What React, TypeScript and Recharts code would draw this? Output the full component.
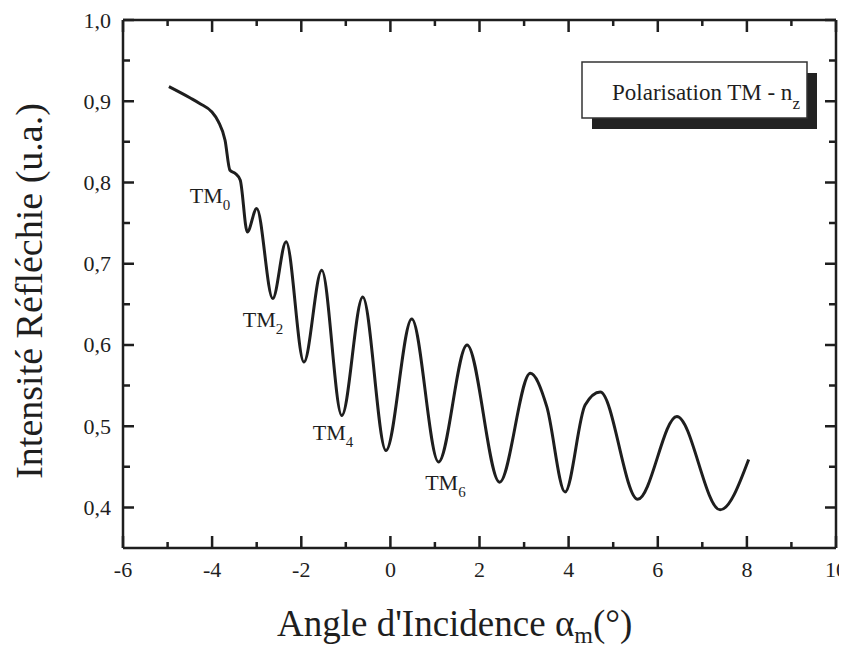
import React from 'react';
import { LineChart, Line, XAxis, YAxis, ReferenceDot } from 'recharts';

// ---- data ----
const angles = [-4.97, -4.49, -4.27, -4.01, -3.86, -3.71, -3.6, -3.48, -3.37, -3.21, -3.0, -2.64, -2.34, -1.94, -1.54, -1.09, -0.62, -0.1, 0.48, 1.08, 1.72, 2.45, 3.14, 3.51, 3.92, 4.37, 4.71, 5.55, 6.43, 7.4, 8.04];
const intensity = [0.918, 0.904, 0.897, 0.887, 0.875, 0.852, 0.815, 0.811, 0.803, 0.739, 0.768, 0.657, 0.727, 0.579, 0.692, 0.513, 0.659, 0.47, 0.632, 0.456, 0.6, 0.431, 0.565, 0.524, 0.419, 0.526, 0.542, 0.41, 0.512, 0.397, 0.459];
const xMajorTicks = [-6, -4, -2, 0, 2, 4, 6, 8, 10];
const xMinorTicks = [-5, -3, -1, 1, 3, 5, 7, 9];
const yMajorTicks = [0.4, 0.5, 0.6, 0.7, 0.8, 0.9, 1.0];
const yMinorTicks = [0.45, 0.55, 0.65, 0.75, 0.85, 0.95];
const modeLabels = [
  { x: -4.5, y: 0.775, mode: '0' },
  { x: -3.31, y: 0.622, mode: '2' },
  { x: -1.74, y: 0.483, mode: '4' },
  { x: 0.78, y: 0.421, mode: '6' },
];
const legendMain = 'Polarisation TM - n';
const legendSub = 'z';
const xTitle = "Angle d'Incidence \u03B1";
const xTitleSub = 'm';
const xTitleEnd = '(\u00B0)';
const yTitle = 'Intensité Réfléchie (u.a.)';

const data = angles.map((a, i) => ({ angle: a, r: intensity[i] }));

const FONT = '"Liberation Serif", "Times New Roman", serif';
const INK = '#1e1e1e';
const W = 839;
const H = 641;
const XMIN = -6;
const XMAX = 10;
const YMIN = 0.35;
const YMAX = 1.0;
const MARGIN = { top: 12, right: 11, bottom: 61, left: 0 };
const Y_AXIS_W = 115;
const X_AXIS_H = 40;
// plot frame derived from the layout above
const PL = MARGIN.left + Y_AXIS_W;
const PR = W - MARGIN.right;
const PT = MARGIN.top;
const PB = H - MARGIN.bottom - X_AXIS_H;
const sx = (v: number) => PL + ((v - XMIN) / (XMAX - XMIN)) * (PR - PL);
const sy = (v: number) => PB - ((v - YMIN) / (YMAX - YMIN)) * (PB - PT);

function BottomLabel(props: any) {
  const { x, y, payload } = props;
  return (
    <text x={x} y={y + 29} textAnchor="middle" fontSize={22} fontFamily={FONT} fill={INK}>
      {String(payload.value)}
    </text>
  );
}

function LeftLabel(props: any) {
  const { x, y, payload } = props;
  return (
    <text x={x - 12} y={y + 7.5} textAnchor="end" fontSize={22} fontFamily={FONT} fill={INK}>
      {Number(payload.value).toFixed(1).replace('.', ',')}
    </text>
  );
}

function ModeLabel(mode: string) {
  return (p: any) => (
    <text x={p.cx} y={p.cy} fontSize={22} fontFamily={FONT} fill={INK}>
      TM
      <tspan fontSize={15} dy={7}>{mode}</tspan>
    </text>
  );
}

function tickPath(): string {
  let d = '';
  const vx = (v: number, len: number) => {
    const x = sx(v).toFixed(1);
    d += `M${x} ${PB} L${x} ${PB - len} `;
    d += `M${x} ${PT} L${x} ${PT + len} `;
  };
  const hy = (v: number, len: number) => {
    const y = sy(v).toFixed(1);
    d += `M${PL} ${y} L${PL + len} ${y} `;
    d += `M${PR} ${y} L${PR - len} ${y} `;
  };
  for (const v of xMajorTicks) vx(v, 12);
  for (const v of xMinorTicks) vx(v, 6);
  for (const v of yMajorTicks) hy(v, 11);
  for (const v of yMinorTicks) hy(v, 7);
  return d;
}

export default function App() {
  const axisLine = { stroke: INK, strokeWidth: 2.5 };
  return (
    <div style={{ position: 'relative', width: W, height: H, background: '#fff' }}>
      <LineChart width={W} height={H} data={data} margin={MARGIN}>
        <XAxis
          xAxisId="x"
          dataKey="angle"
          type="number"
          domain={[XMIN, XMAX]}
          ticks={xMajorTicks}
          interval={0}
          allowDataOverflow
          height={X_AXIS_H}
          tickSize={0}
          tickMargin={0}
          tickLine={false}
          axisLine={axisLine}
          tick={BottomLabel}
        />
        <YAxis
          yAxisId="y"
          type="number"
          domain={[YMIN, YMAX]}
          ticks={yMajorTicks}
          interval={0}
          allowDataOverflow
          width={Y_AXIS_W}
          tickSize={0}
          tickMargin={0}
          tickLine={false}
          axisLine={axisLine}
          tick={LeftLabel}
        />
        <XAxis
          xAxisId="xt"
          orientation="top"
          mirror
          type="number"
          domain={[XMIN, XMAX]}
          ticks={xMajorTicks}
          interval={0}
          allowDataOverflow
          height={1}
          tick={false}
          tickLine={false}
          axisLine={axisLine}
        />
        <YAxis
          yAxisId="yr"
          orientation="right"
          mirror
          type="number"
          domain={[YMIN, YMAX]}
          ticks={yMajorTicks}
          interval={0}
          allowDataOverflow
          width={1}
          tick={false}
          tickLine={false}
          axisLine={axisLine}
        />
        <Line
          xAxisId="x"
          yAxisId="y"
          type="monotone"
          dataKey="r"
          stroke={INK}
          strokeWidth={3}
          dot={false}
          isAnimationActive={false}
        />
        {modeLabels.map((m) => (
          <ReferenceDot
            key={m.mode}
            xAxisId="x"
            yAxisId="y"
            x={m.x}
            y={m.y}
            r={0}
            ifOverflow="visible"
            shape={ModeLabel(m.mode)}
          />
        ))}
      </LineChart>
      <svg
        width={W}
        height={H}
        style={{ position: 'absolute', left: 0, top: 0, pointerEvents: 'none' }}
      >
        <path d={tickPath()} stroke={INK} strokeWidth={2.5} fill="none" />
        <g>
          <rect x={584} y={65} width={225} height={56} fill="#222" />
          <rect x={574} y={54} width={225} height={56} fill="#fff" stroke="#333" strokeWidth={1.5} />
          <text x={604} y={92} fontSize={23} fontFamily={FONT} fill={INK}>
            {legendMain}
            <tspan fontSize={17} dy={9}>{legendSub}</tspan>
          </text>
        </g>
        <text x={269} y={628} fontSize={37} fontFamily={FONT} fill={INK}>
          {xTitle}
          <tspan fontSize={24} dy={7}>{xTitleSub}</tspan>
          <tspan dy={-7}>{xTitleEnd}</tspan>
        </text>
        <text
          x={34}
          y={283}
          transform="rotate(-90, 34, 283)"
          textAnchor="middle"
          fontSize={38}
          fontFamily={FONT}
          fill={INK}
        >
          {yTitle}
        </text>
      </svg>
    </div>
  );
}
